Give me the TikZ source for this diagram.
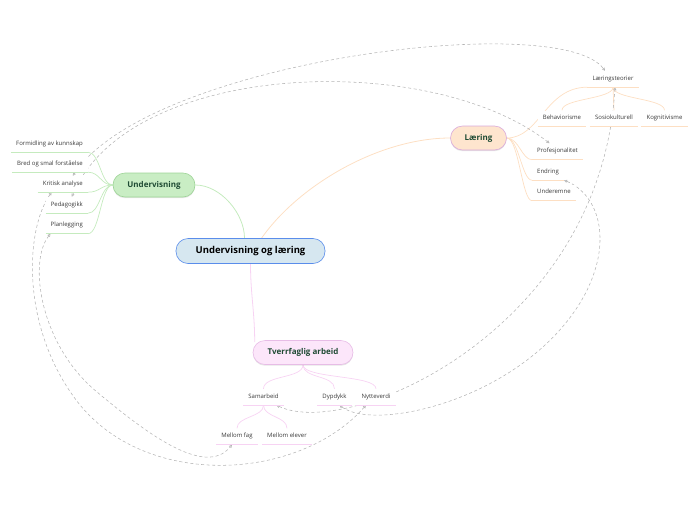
\documentclass[tikz,border=0pt]{standalone}
\usepackage{fontspec}
\setmainfont{Open Sans}
\usetikzlibrary{arrows.meta,shadows,backgrounds}

\definecolor{hovedfyll}{HTML}{D6E7F0}
\definecolor{hovedkant}{HTML}{5A8DEB}
\definecolor{undfyll}{HTML}{C9EDC4}
\definecolor{undkant}{HTML}{9ED497}
\definecolor{undlinje}{HTML}{C5EBBE}
\definecolor{laefyll}{HTML}{FEE5CE}
\definecolor{laekant}{HTML}{D9A9DB}
\definecolor{laelinje}{HTML}{FDDFC3}
\definecolor{tvefyll}{HTML}{FCE6FA}
\definecolor{tvekant}{HTML}{E7BCE6}
\definecolor{tvelinje}{HTML}{F7D3F3}
\definecolor{grentekst}{HTML}{1E4A33}
\definecolor{bladtekst}{HTML}{3A3A3A}
\definecolor{relgraa}{HTML}{B4B4B4}

\begin{document}
\begin{tikzpicture}[x=1pt,y=-1pt,
    every node/.style={font=\fontsize{6}{7}\selectfont, text=bladtekst},
    hoved/.style={draw=hovedkant, fill=hovedfyll, rounded corners=12pt, minimum width=149pt, minimum height=25pt,
        line width=0.6pt, font=\fontsize{9.5}{11}\selectfont\bfseries, text=black},
    gren/.style={rounded corners=12pt, minimum height=24pt, line width=0.6pt, font=\fontsize{8}{10}\selectfont\bfseries,
        text=grentekst, drop shadow={opacity=0.2, shadow xshift=0pt, shadow yshift=-1.2pt}},
    blad/.style={fill=white, text height=4.2pt, text depth=1.3pt, inner ysep=5.25pt, inner xsep=5pt},
    relasjon/.style={draw=relgraa, dash pattern=on 3pt off 2.5pt, line width=0.55pt,
        {Triangle[open,length=3pt,width=3pt]}-{Triangle[open,length=3pt,width=3pt]}}]
    \useasboundingbox (0,0) rectangle (696,520);

    % hovedemne og grener
    \node[hoved] (hoved) at (250.5,251) {Undervisning og læring};
    \node[gren, draw=undkant, fill=undfyll, minimum width=82pt] (und) at (154,185) {Undervisning};
    \node[gren, draw=laekant, fill=laefyll, minimum width=56pt] (lae) at (478.5,138) {Læring};
    \node[gren, draw=tvekant, fill=tvefyll, minimum width=100pt] (tve) at (303,352.5) {Tverrfaglig arbeid};

    % undervisning
    \node[blad, anchor=east] (fo) at (88,144) {Formidling av kunnskap};
    \node[blad, anchor=east] (br) at (88,164) {Bred og smal forståelse};
    \node[blad, anchor=east] (ka) at (88,184) {Kritisk analyse};
    \node[blad, anchor=east] (pe) at (88,205) {Pedagogikk};
    \node[blad, anchor=east] (pl) at (88,225.5) {Planlegging};

    % læring
    \node[blad] (lt) at (613,79) {Læringsteorier};
    \node[blad] (be) at (562,118.5) {Behaviorisme};
    \node[blad] (so) at (614,118.5) {Sosiokulturell};
    \node[blad] (ko) at (664.5,118.5) {Kognitivisme};
    \node[blad, anchor=west] (pr) at (532,151.5) {Profesjonalitet};
    \node[blad, anchor=west] (en) at (532,172) {Endring};
    \node[blad, anchor=west] (ue) at (532,192.5) {Underemne};

    % tverrfaglig arbeid
    \node[blad] (sa) at (263.5,397) {Samarbeid};
    \node[blad] (dy) at (334.5,397) {Dypdykk};
    \node[blad] (ny) at (376,397) {Nytteverdi};
    \node[blad] (mf) at (237,436.5) {Mellom fag};
    \node[blad] (me) at (287,436.5) {Mellom elever};

    % understreker
    \foreach \n in {fo,br,ka,pe,pl}
        \draw[undlinje, line width=1pt] (\n.south west) -- (\n.south east);
    \foreach \n in {lt,be,so,ko,pr,en,ue}
        \draw[laelinje, line width=1pt] (\n.south west) -- (\n.south east);
    \foreach \n in {sa,dy,ny,mf,me}
        \draw[tvelinje, line width=1pt] (\n.south west) -- (\n.south east);

    \begin{scope}[on background layer]
        % grenlinjer
        \draw[undlinje, line width=0.8pt] ([xshift=-6pt]hoved.north) .. controls +(0,-25) and +(25,0) .. (und.east);
        \draw[laelinje, line width=0.8pt] ([xshift=11pt]hoved.north) .. controls +(38,-54) and +(-70,0) .. (lae.west);
        \draw[tvelinje, line width=0.8pt] (hoved.south) .. controls +(0,30) and +(0,-30) .. ([xshift=2pt,yshift=-2pt]tve.north west);
        \foreach \n in {fo,br,ka,pe,pl}
            \draw[undlinje, line width=0.7pt] (und.west) .. controls +(-12,0) and +(12,0) .. (\n.south east);
        \foreach \n in {pr,en,ue}
            \draw[laelinje, line width=0.7pt] (lae.east) .. controls +(12,0) and +(-10,0) .. (\n.south west);
        \draw[laelinje, line width=0.7pt] (lae.east) .. controls +(33,0) and +(-42,0) .. (lt.south west);
        \foreach \n in {be,so,ko}
            \draw[laelinje, line width=0.7pt] (lt.south) .. controls +(0,12) and +(0,-12) .. (\n.north);
        \foreach \n in {sa,dy,ny}
            \draw[tvelinje, line width=0.7pt] (tve.south) .. controls +(0,14) and +(0,-14) .. (\n.north);
        \foreach \n in {mf,me}
            \draw[tvelinje, line width=0.7pt] (sa.south) .. controls +(0,12) and +(0,-12) .. (\n.north);

        % relasjoner
        \draw[relasjon] ([xshift=10pt]ka.north) .. controls (150,60) and (560,10) .. ([xshift=-8pt]lt.north);
        \draw[relasjon] ([xshift=5pt]pe.north) .. controls (130,60) and (430,50) .. ([xshift=-8pt]pr.north);
        \draw[relasjon] ([xshift=5pt]pl.south west) .. controls (28,262) and (40,345) .. (97,392)
            .. controls (145,432) and (205,478) .. ([xshift=-5pt]mf.south);
        \draw[relasjon] ([xshift=14pt]ka.south west) .. controls (25,230) and (20,330) .. (80,405)
            .. controls (150,490) and (300,480) .. ([xshift=-10pt]ny.south);
        \draw[relasjon] ([xshift=5pt]dy.south) .. controls (375,432) and (520,400) .. (580,303)
            .. controls (615,245) and (600,195) .. (en.south east);
        \draw[relasjon] ([xshift=13pt]sa.south) .. controls (350,440) and (600,330) .. ([xshift=2pt]lt.south);
    \end{scope}
\end{tikzpicture}
\end{document}
